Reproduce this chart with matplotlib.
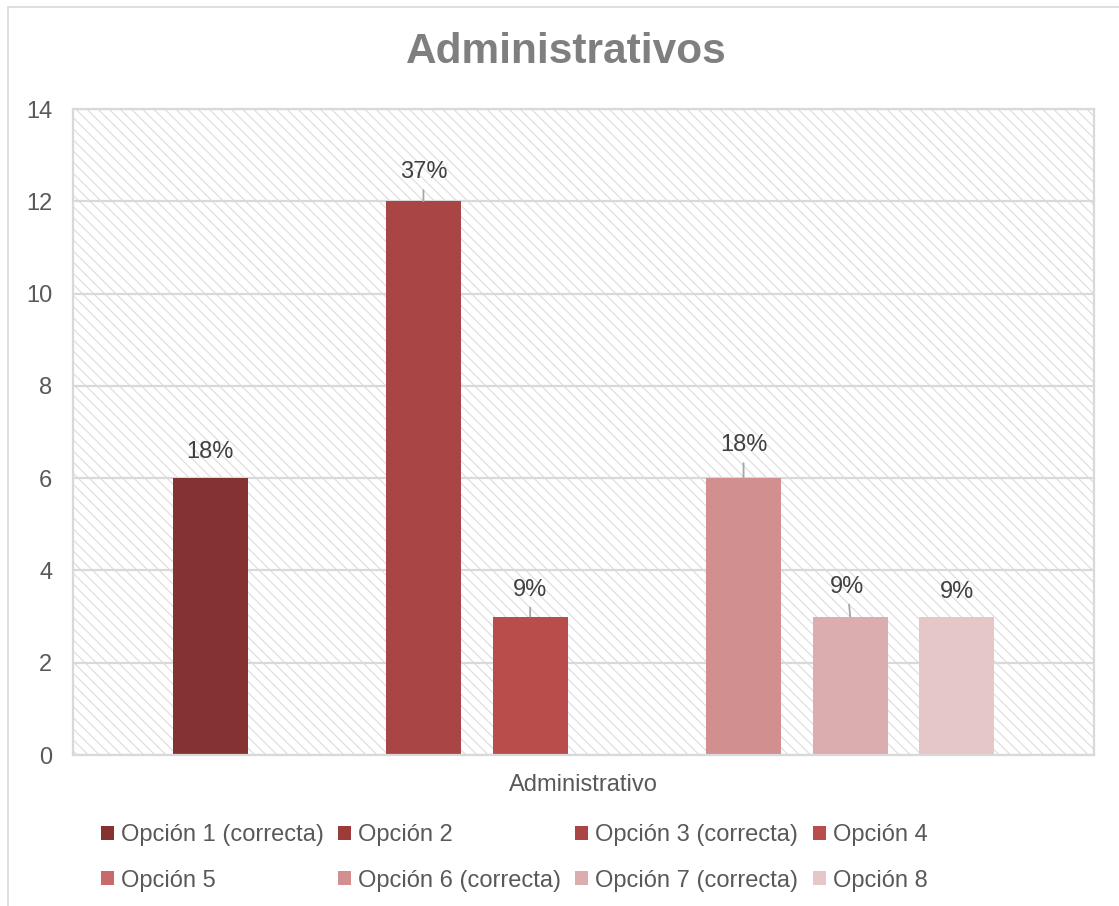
import matplotlib.pyplot as plt
from matplotlib.patches import Patch, Rectangle

plt.rcParams['font.family'] = ['Liberation Sans', 'DejaVu Sans']

# datos
categoria = 'Administrativo'
opciones = ['Opción 1 (correcta)', 'Opción 2', 'Opción 3 (correcta)', 'Opción 4',
            'Opción 5', 'Opción 6 (correcta)', 'Opción 7 (correcta)', 'Opción 8']
respuestas = [6, 0, 12, 3, 0, 6, 3, 3]
porcentajes = ['18%', '', '37%', '9%', '', '18%', '9%', '9%']

colores = ['#843332', '#9C3B3A', '#A94545', '#B84D4C',
           '#C8696A', '#D18F8F', '#DBADAE', '#E5C7C8']
# desplazamiento de cada etiqueta (px) y si lleva linea guia
etiq_dx = [0, 0, 0, 0, 0, 0, -3, 0]
etiq_dy = [26, 0, 29, 27, 0, 33, 30, 25]
guia = [False, False, True, True, False, True, True, False]

fig = plt.figure(figsize=(11.19, 9.06), dpi=100)
ax = fig.add_axes([73 / 1119, 1 - 755 / 906, (1094 - 73) / 1119, (755 - 109) / 906])

# marco exterior del grafico
fig.patches.append(Rectangle((8 / 1119, -0.05), 1.05, 1 - 7 / 906 + 0.05,
                             transform=fig.transFigure, facecolor='none',
                             edgecolor='#D9D9D9', lw=1.2))

# fondo rayado del area de trazado
plt.rcParams['hatch.linewidth'] = 0.8
ax.add_patch(Rectangle((0, 0), 1, 1, transform=ax.transAxes, facecolor='white',
                       edgecolor='#DCDCDC', lw=0, hatch='\\\\\\', zorder=0))

ancho_slot = 106.7 / 1021
ancho_barra = 75 / 1021
px2pt = 72 / 100

for i, (op, v, c) in enumerate(zip(opciones, respuestas, colores)):
    x = (i - 3.5) * ancho_slot
    ax.bar(x, v, width=ancho_barra, color=c, zorder=2, label=op)
    if porcentajes[i]:
        ax.annotate(porcentajes[i], xy=(x, v),
                    xytext=(etiq_dx[i] * px2pt, etiq_dy[i] * px2pt),
                    textcoords='offset points', ha='center', va='center',
                    fontsize=17, color='#404040', zorder=3,
                    arrowprops=dict(arrowstyle='-', color='#A6A6A6', lw=1.3,
                                    shrinkA=3, shrinkB=0) if guia[i] else None)

ax.set_xlim(-0.5, 0.5)
ax.set_ylim(0, 14)
ax.set_yticks(range(0, 15, 2))
ax.set_xticks([0])
ax.set_xticklabels([categoria])
ax.tick_params(axis='both', length=0, labelsize=17, labelcolor='#595959')
ax.tick_params(axis='y', pad=15)
ax.tick_params(axis='x', pad=14)
ax.set_axisbelow(True)
ax.yaxis.grid(True, color='#D9D9D9', lw=1.6)
for s in ax.spines.values():
    s.set_color('#D9D9D9')
    s.set_linewidth(1.6)

fig.text(566 / 1119, 1 - 52 / 906, 'Administrativos', ha='center', va='center',
         fontsize=30.5, fontweight='bold', color='#7F7F7F')

# leyenda en filas de cuatro
handles = [Patch(facecolor=c, edgecolor='none') for c in colores]
orden = [0, 4, 1, 5, 2, 6, 3, 7]
fig.legend([handles[k] for k in orden], [opciones[k] for k in orden], ncol=4,
           loc='upper left', bbox_to_anchor=(101 / 1119, 1 - 824 / 906),
           frameon=False, fontsize=17, labelcolor='#595959',
           handlelength=0.55, handleheight=0.55, handletextpad=0.3,
           columnspacing=0.6, labelspacing=1.0, borderpad=0, borderaxespad=0)

fig.savefig('out.png', dpi=100)
